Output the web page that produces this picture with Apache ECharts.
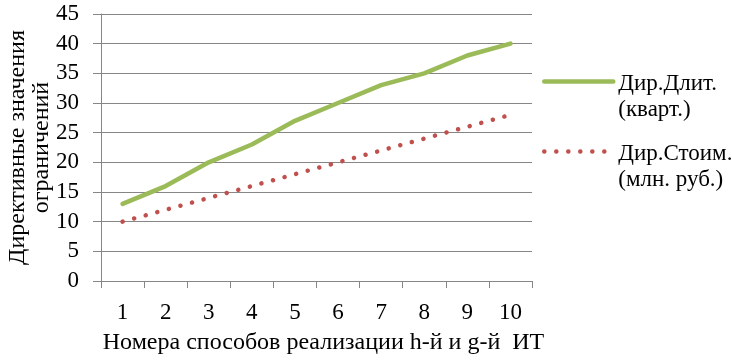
<!DOCTYPE html>
<html>
<head>
<meta charset="utf-8">
<script src="https://cdn.jsdelivr.net/npm/echarts@6/dist/echarts.min.js"></script>
<style>
  html, body { margin: 0; padding: 0; background: #fff; }
  #chart { width: 732px; height: 361px; }
</style>
</head>
<body>
<div id="chart"></div>
<script>
// номера способов реализации
const categories = ['1', '2', '3', '4', '5', '6', '7', '8', '9', '10']
// Дир.Длит. (кварт.)
const durationValues = [13, 16, 20, 23, 27, 30, 33, 35, 38, 40]
// Дир.Стоим. (млн. руб.)
const costValues = [10, 12, 14, 16, 18, 20, 22, 24, 26, 28]

const durationName = 'Дир.Длит.\n(кварт.)'
const costName = 'Дир.Стоим.\n(млн. руб.)'

const font = 'Liberation Serif'
const gray = '#868686'
const green = '#9BBB59'
const red = '#C0504D'

const chart = echarts.init(document.getElementById('chart'))

// пустая первая строка, чтобы значок стоял на уровне первой строки подписи
const legendFormatter = (name) =>
  '{s| }\n' + name.split('\n').map(l => '{t|' + l + '}').join('\n')

const legendText = {
  fontFamily: font,
  fontSize: 23,
  color: '#000',
  rich: {
    s: { fontFamily: font, fontSize: 23, lineHeight: 30 },
    t: { fontFamily: font, fontSize: 23, color: '#000', lineHeight: 26 }
  }
}

const makeLegend = (name, iconY) => ({
  data: [name],
  left: 542,
  top: iconY - 37,
  padding: 0,
  itemWidth: 69,
  itemHeight: 14,
  itemGap: 0,
  itemTextGap: 7,
  formatter: legendFormatter,
  textStyle: legendText,
  itemStyle: { opacity: 0 },
  lineStyle: { width: 4.5, cap: 'round', opacity: 1 },
  selectedMode: false
})

const option = {
  backgroundColor: '#fff',
  animation: false,
  grid: {
    left: 101,
    right: 200,
    top: 14,
    bottom: 80,
    outerBoundsMode: 'none'
  },
  legend: [
    makeLegend(durationName, 81),
    makeLegend(costName, 151)
  ],
  xAxis: {
    type: 'category',
    data: categories,
    boundaryGap: true,
    name: 'Номера способов реализации h-й и g-й  ИТ',
    nameLocation: 'middle',
    nameGap: 50,
    nameMoveOverlap: false,
    nameTextStyle: { fontFamily: font, fontSize: 24, color: '#000', padding: [0, 0, 0, 14] },
    axisLine: { lineStyle: { color: gray, width: 1 } },
    axisTick: { show: true, length: 7, lineStyle: { color: gray } },
    axisLabel: { fontFamily: font, fontSize: 23, color: '#000', margin: 20 },
    splitLine: { show: false }
  },
  yAxis: {
    type: 'value',
    min: 0,
    max: 45,
    interval: 5,
    name: 'Директивные значения\nограничений',
    nameLocation: 'middle',
    nameRotate: 90,
    nameGap: 47,
    nameMoveOverlap: false,
    nameTextStyle: { fontFamily: font, fontSize: 24, color: '#000', lineHeight: 24 },
    axisLine: { show: true, lineStyle: { color: gray, width: 1 } },
    axisTick: { show: true, length: 8, lineStyle: { color: gray } },
    axisLabel: { fontFamily: font, fontSize: 23, color: '#000', margin: 22 },
    splitLine: { show: true, lineStyle: { color: gray, width: 1 } }
  },
  series: [
    {
      name: durationName,
      type: 'line',
      data: durationValues,
      symbol: 'none',
      lineStyle: { color: green, width: 4.5, cap: 'round', join: 'round' },
      itemStyle: { color: green }
    },
    {
      name: costName,
      type: 'line',
      data: costValues,
      symbol: 'none',
      lineStyle: { color: red, width: 4.5, type: [0.1, 11.9], cap: 'round' },
      itemStyle: { color: red }
    }
  ]
}

chart.setOption(option)
</script>
</body>
</html>
